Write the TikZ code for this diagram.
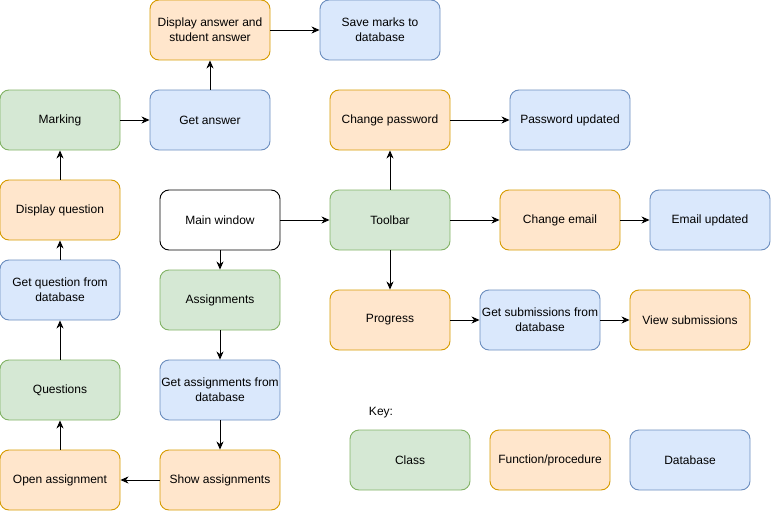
\documentclass[tikz,border=0pt]{standalone}
\usepackage{fontspec}
\setmainfont{Liberation Sans}
\usetikzlibrary{arrows.meta,positioning}

\definecolor{clsfill}{HTML}{D5E8D4}
\definecolor{clsline}{HTML}{82B366}
\definecolor{fnfill}{HTML}{FFE6CC}
\definecolor{fnline}{HTML}{D79B00}
\definecolor{dbfill}{HTML}{DAE8FC}
\definecolor{dbline}{HTML}{6C8EBF}

\tikzset{
  box/.style={rounded corners=9pt, minimum width=120pt, minimum height=60pt,
    align=center, inner sep=0pt, line width=0.9pt,
    font=\fontsize{12}{15}\selectfont},
  clsbox/.style={box, draw=clsline, fill=clsfill},
  fnbox/.style={box, draw=fnline, fill=fnfill},
  dbbox/.style={box, draw=dbline, fill=dbfill},
  mainbox/.style={box, draw=black, fill=white},
  link/.style={-{Stealth[length=8pt,width=7pt,inset=2.5pt]}, line width=0.9pt}
}

\begin{document}
\begin{tikzpicture}[x=1pt,y=-1pt]
    \useasboundingbox (0,0) rectangle (771,511);
    % top row
    \node[fnbox] (dispanswer) at (210,30) {Display answer and\\student answer};
    \node[dbbox] (savemarks) at (380,30) {Save marks to\\database};
    \node[clsbox] (marking) at (60,120) {Marking};
    \node[dbbox] (getanswer) at (210,120) {Get answer};
    \node[fnbox] (changepw) at (390,120) {Change password};
    \node[dbbox] (pwupdated) at (570,120) {Password updated};
    % middle
    \node[fnbox] (dispquestion) at (60,210) {Display question};
    \node[mainbox] (mainwin) at (220,220) {Main window};
    \node[clsbox] (toolbar) at (390,220) {Toolbar};
    \node[fnbox] (changeemail) at (560,220) {Change email};
    \node[dbbox] (emailupdated) at (710,220) {Email updated};
    \node[dbbox] (getquestion) at (60,290) {Get question from\\database};
    \node[clsbox] (assignments) at (220,300) {Assignments};
    \node[fnbox] (progress) at (390,320) {Progress};
    \node[dbbox] (getsubs) at (540,320) {Get submissions from\\database};
    \node[fnbox] (viewsubs) at (690,320) {View submissions};
    % bottom
    \node[clsbox] (questions) at (60,390) {Questions};
    \node[dbbox] (getassign) at (220,390) {Get assignments from\\database};
    \node[fnbox] (openassign) at (60,480) {Open assignment};
    \node[fnbox] (showassign) at (220,480) {Show assignments};
    % key
    \node[font=\fontsize{12}{15}\selectfont] (keylabel) at (381,413) {Key:};
    \node[clsbox] (keycls) at (410,460) {Class};
    \node[fnbox] (keyfn) at (550,460) {Function/procedure};
    \node[dbbox] (keydb) at (690,460) {Database};

    % connectors
    \draw[link] (mainwin) -- (toolbar);
    \draw[link] (mainwin) -- (assignments);
    \draw[link] (assignments) -- (getassign);
    \draw[link] (getassign) -- (showassign);
    \draw[link] (showassign) -- (openassign);
    \draw[link] (openassign) -- (questions);
    \draw[link] (questions) -- (getquestion);
    \draw[link] (getquestion) -- (dispquestion);
    \draw[link] (dispquestion) -- (marking);
    \draw[link] (marking) -- (getanswer);
    \draw[link] (getanswer) -- (dispanswer);
    \draw[link] (dispanswer) -- (savemarks);
    \draw[link] (toolbar) -- (changepw);
    \draw[link] (changepw) -- (pwupdated);
    \draw[link] (toolbar) -- (changeemail);
    \draw[link] (changeemail) -- (emailupdated);
    \draw[link] (toolbar) -- (progress);
    \draw[link] (progress) -- (getsubs);
    \draw[link] (getsubs) -- (viewsubs);
\end{tikzpicture}
\end{document}
